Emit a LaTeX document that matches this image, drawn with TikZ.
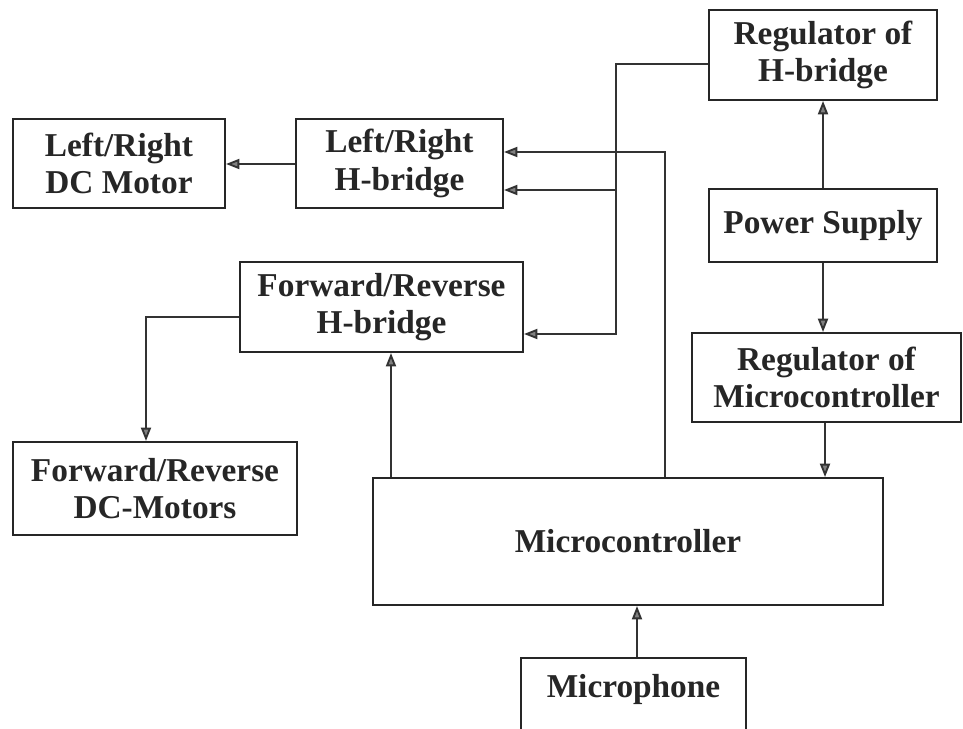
\documentclass[tikz,border=0pt]{standalone}
\usepackage{fontspec}
\setmainfont{Liberation Serif}
\usetikzlibrary{arrows.meta}

\tikzset{every picture/.style={line width=0.75pt}}
\tikzset{
  blockbox/.style={draw=black!85, line width=1.5pt, align=center, inner sep=0pt,
    font=\fontsize{25}{28}\selectfont\bfseries, text=black!85},
  wire/.style={draw=black!80, line width=1.4pt,
    -{Triangle[length=10pt,width=7.5pt,fill=gray]}},
}

\begin{document}
\begin{tikzpicture}[x=0.75pt,y=0.75pt,yscale=-1,xscale=1]
\clip (0,0) rectangle (963,728);
\fill[white] (0,0) rectangle (963,728);

% Blocks
\node [blockbox, minimum width=159pt, minimum height=66.75pt] (lrmotor) at (119,163.5) {Left/Right\\DC Motor};
\node [blockbox, minimum width=155.25pt, minimum height=66.75pt] (lrhb) at (399.5,163.5) {Left/Right\\H-bridge};
\node [blockbox, minimum width=171pt, minimum height=67.5pt] (reghb) at (823,55) {Regulator of\\H-bridge};
\node [blockbox, minimum width=171pt, minimum height=54.75pt] (power) at (823,225.5) {Power Supply};
\node [blockbox, minimum width=212.25pt, minimum height=67.5pt] (fwhb) at (381.5,307) {Forward/Reverse\\H-bridge};
\node [blockbox, minimum width=201.75pt, minimum height=66.75pt] (regmc) at (826.5,377.5) {Regulator of\\Microcontroller};
\node [blockbox, minimum width=213pt, minimum height=69.75pt] (fwmotor) at (155,488.5) {Forward/Reverse\\DC-Motors};
\node [blockbox, minimum width=382.5pt, minimum height=95.25pt] (micro) at (628,541.5) {Microcontroller};
\node [blockbox, minimum width=168.75pt, minimum height=63pt, text height=16.8pt, text depth=21pt] (mic) at (633.5,700) {Microphone};

% Connectors
\coordinate (jB) at (616,190);
\draw [wire] (lrhb.west |- 0,164) -- (lrmotor.east |- 0,164);
\draw [wire] (reghb.west |- 0,64) -| (jB) |- (fwhb.east |- 0,334);
\draw [wire] (jB) -- (lrhb.east |- jB);
\draw [wire] (micro.north -| 665,0) |- (lrhb.east |- 0,152);
\draw [wire] (micro.north -| 391,0) -- (fwhb.south -| 391,0);
\draw [wire] (fwhb.west |- 0,317) -| (fwmotor.north -| 146,0);
\draw [wire] (power.north) -- (reghb.south);
\draw [wire] (power.south) -- (regmc.north -| power.south);
\draw [wire] (regmc.south -| 825,0) -- (micro.north -| 825,0);
\draw [wire] (mic.north -| 637,0) -- (micro.south -| 637,0);

\end{tikzpicture}
\end{document}
